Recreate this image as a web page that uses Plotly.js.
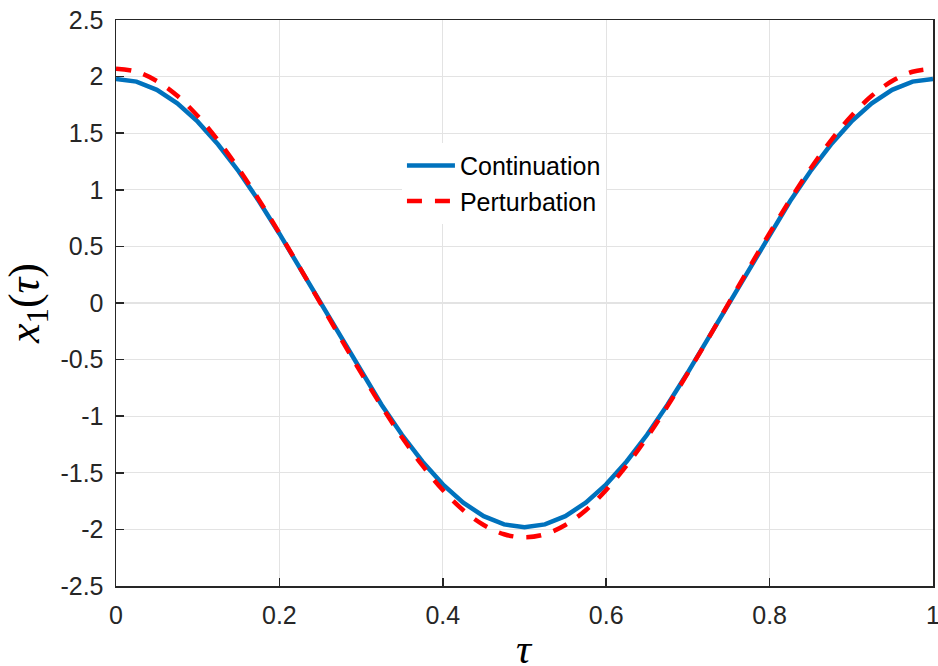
<!DOCTYPE html>
<html>
<head>
<meta charset="utf-8">
<script src="https://cdn.plot.ly/plotly-3.0.1.min.js"></script>
<style>html,body{margin:0;padding:0;background:#fff;}#chart{width:938px;height:666px;}</style>
</head>
<body>
<div id="chart"></div>
<script>
// tau sampled at 41 points (step 0.025)
const tau = [0,0.025,0.05,0.075,0.1,0.125,0.15,0.175,0.2,0.225,0.25,0.275,0.3,0.325,0.35,0.375,0.4,0.425,0.45,0.475,0.5,
             0.525,0.55,0.575,0.6,0.625,0.65,0.675,0.7,0.725,0.75,0.775,0.8,0.825,0.85,0.875,0.9,0.925,0.95,0.975,1];
const continuation = [1.980,1.956,1.883,1.764,1.602,1.400,1.164,0.899,0.612,0.310,0.000,-0.310,-0.612,-0.899,-1.164,-1.400,-1.602,-1.764,-1.883,-1.956,-1.980,
                      -1.956,-1.883,-1.764,-1.602,-1.400,-1.164,-0.899,-0.612,-0.310,0.000,0.310,0.612,0.899,1.164,1.400,1.602,1.764,1.883,1.956,1.980];
const perturbation = [2.070,2.043,1.961,1.830,1.652,1.435,1.186,0.911,0.617,0.312,0.000,-0.312,-0.617,-0.911,-1.186,-1.435,-1.652,-1.830,-1.961,-2.043,-2.070,
                      -2.043,-1.961,-1.830,-1.652,-1.435,-1.186,-0.911,-0.617,-0.312,0.000,0.312,0.617,0.911,1.186,1.435,1.652,1.830,1.961,2.043,2.070];
const xTickVals = [0,0.2,0.4,0.6,0.8,1];
const xTickText = ["0","0.2","0.4","0.6","0.8","1"];
const yTickVals = [-2.5,-2,-1.5,-1,-0.5,0,0.5,1,1.5,2,2.5];
const yTickText = ["-2.5","-2","-1.5","-1","-0.5","0","0.5","1","1.5","2","2.5"];
const seriesNames = ["Continuation","Perturbation"];
const xTitle = "<i>τ</i>";
const yTitle = "<i>x</i><sub>1</sub>(<i>τ</i>)";

const traces = [
  {x: tau, y: continuation, name: seriesNames[0], mode: "lines",
   line: {color: "#0072BD", width: 4.5}},
  {x: tau, y: perturbation, name: seriesNames[1], mode: "lines",
   line: {color: "#FF0000", width: 4.5, dash: "15px,13px", shape: "spline"}}
];

const axisCommon = {
  showline: true, mirror: true, linecolor: "#262626", linewidth: 1.5,
  ticks: "inside", ticklen: 8, tickwidth: 1.5, tickcolor: "#262626",
  showgrid: true, gridcolor: "#e3e3e3", gridwidth: 1.3, zeroline: false,
  tickfont: {family: "Liberation Sans, Arial, sans-serif", size: 25, color: "#262626"},
  tickmode: "array", ticklabeloverflow: "allow"
};

const layout = {
  width: 938, height: 666,
  margin: {l: 116, r: 5, t: 20, b: 80},
  paper_bgcolor: "#ffffff", plot_bgcolor: "#ffffff",
  showlegend: true,
  legend: {x: 0.35, y: 0.783, xanchor: "left", yanchor: "top",
           bgcolor: "#ffffff", borderwidth: 0, itemwidth: 48,
           font: {family: "Liberation Sans, Arial, sans-serif", size: 25, color: "#000000"}},
  xaxis: Object.assign({}, axisCommon, {
    range: [0, 1], tickvals: xTickVals, ticktext: xTickText, ticklabelstandoff: 6
  }),
  yaxis: Object.assign({}, axisCommon, {
    range: [-2.5, 2.5], tickvals: yTickVals, ticktext: yTickText, ticklabelstandoff: 6,
    title: {text: yTitle, font: {family: "Liberation Serif, serif", size: 44, color: "#000"}, standoff: 12}
  }),
  annotations: [
    {text: xTitle, xref: "paper", yref: "paper", x: 0.5, y: 0, xanchor: "center", yanchor: "top",
     yshift: -38, showarrow: false,
     font: {family: "Liberation Serif, serif", size: 42, color: "#000"}}
  ]
};

Plotly.newPlot("chart", traces, layout, {displayModeBar: false, staticPlot: true});
</script>
</body>
</html>
